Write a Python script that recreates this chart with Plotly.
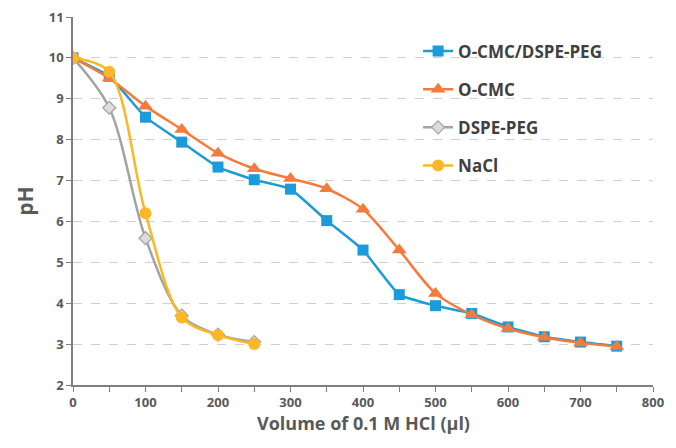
import plotly.graph_objects as go

x_full = [0, 50, 100, 150, 200, 250, 300, 350, 400, 450, 500, 550, 600, 650, 700, 750]
x_short = [0, 50, 100, 150, 200, 250]

ocmc_dspe = [10.0, 9.55, 8.55, 7.94, 7.33, 7.02, 6.79, 6.02, 5.30, 4.21, 3.94, 3.75, 3.42, 3.18, 3.05, 2.95]
ocmc = [10.0, 9.5, 8.82, 8.25, 7.67, 7.29, 7.05, 6.80, 6.30, 5.30, 4.24, 3.72, 3.38, 3.17, 3.03, 2.94]
dspe_peg = [10.0, 8.78, 5.59, 3.70, 3.23, 3.05]
nacl = [10.0, 9.66, 6.2, 3.65, 3.22, 3.0]

names = ["O-CMC/DSPE-PEG", "O-CMC", "DSPE-PEG", "NaCl"]
colors = ["#1b9bd7", "#f47b3b", "#a3a3a3", "#fbb824"]
x_title = "Volume of 0.1 M HCl (μl)"
y_title = "pH"

fig = go.Figure()
fig.add_trace(go.Scatter(
    x=x_full, y=ocmc_dspe, name=names[0], mode="lines+markers", legendgroup="a",
    line=dict(color=colors[0], width=2.5, shape="spline", smoothing=0.4),
    marker=dict(symbol="square", size=11, color=colors[0])))
fig.add_trace(go.Scatter(
    x=x_full, y=ocmc, name=names[1], mode="lines+markers", legendgroup="b",
    line=dict(color=colors[1], width=2.5, shape="spline", smoothing=0.8),
    marker=dict(symbol="triangle-up", size=13, color=colors[1])))
fig.add_trace(go.Scatter(
    x=x_short, y=dspe_peg, name=names[2], mode="lines+markers", legendgroup="c",
    line=dict(color=colors[2], width=2.5, shape="spline", smoothing=0.9),
    marker=dict(symbol="diamond", size=10, color="#dcdcdc", line=dict(color="#a3a3a3", width=1.2))))
fig.add_trace(go.Scatter(
    x=x_short, y=nacl, name=names[3], mode="lines+markers", legendgroup="d",
    line=dict(color=colors[3], width=2.5, shape="spline", smoothing=0.9),
    marker=dict(symbol="circle", size=12, color=colors[3])))

axis_font = dict(family="Open Sans", size=13, color="#595959", weight="bold")
fig.update_layout(
    width=660, height=428,
    margin=dict(l=65, r=15, t=9, b=51),
    paper_bgcolor="white", plot_bgcolor="white",
    font=dict(family="Open Sans", color="#595959"),
    legend=dict(x=0.595, y=0.955, xanchor="left", yanchor="top",
                font=dict(family="Open Sans", size=17, color="#404040", weight="bold"),
                traceorder="grouped", tracegroupgap=13, itemwidth=30,
                bgcolor="rgba(0,0,0,0)"),
    xaxis=dict(range=[0, 800], dtick=100, tick0=0, showgrid=False, zeroline=False,
               automargin=False,
               showline=True, linecolor="#7f7f7f", linewidth=1.5,
               ticks="outside", ticklen=5, tickcolor="#7f7f7f", tickfont=axis_font,
               ticklabeloverflow="allow",
               minor=dict(dtick=50, ticks="outside", ticklen=5, tickcolor="#7f7f7f")),
    yaxis=dict(range=[2, 11], dtick=1, tick0=2, showgrid=True, gridcolor="#d0d0d0",
               griddash="dash", gridwidth=1, zeroline=False,
               automargin=False,
               showline=True, linecolor="#7f7f7f", linewidth=1.5,
               ticks="outside", ticklen=5, tickcolor="#7f7f7f", tickfont=axis_font,
               ticklabeloverflow="allow"),
    annotations=[
        dict(text=x_title, xref="paper", yref="paper", x=0.5, y=-0.104,
             xanchor="center", yanchor="middle", showarrow=False,
             font=dict(family="Open Sans", size=18, color="#595959", weight="bold")),
        dict(text=y_title, xref="paper", yref="paper", x=-0.083, y=0.5,
             xanchor="center", yanchor="middle", showarrow=False, textangle=-90,
             font=dict(family="Open Sans", size=21, color="#595959", weight="bold")),
    ],
)

fig.write_html("out.html")
